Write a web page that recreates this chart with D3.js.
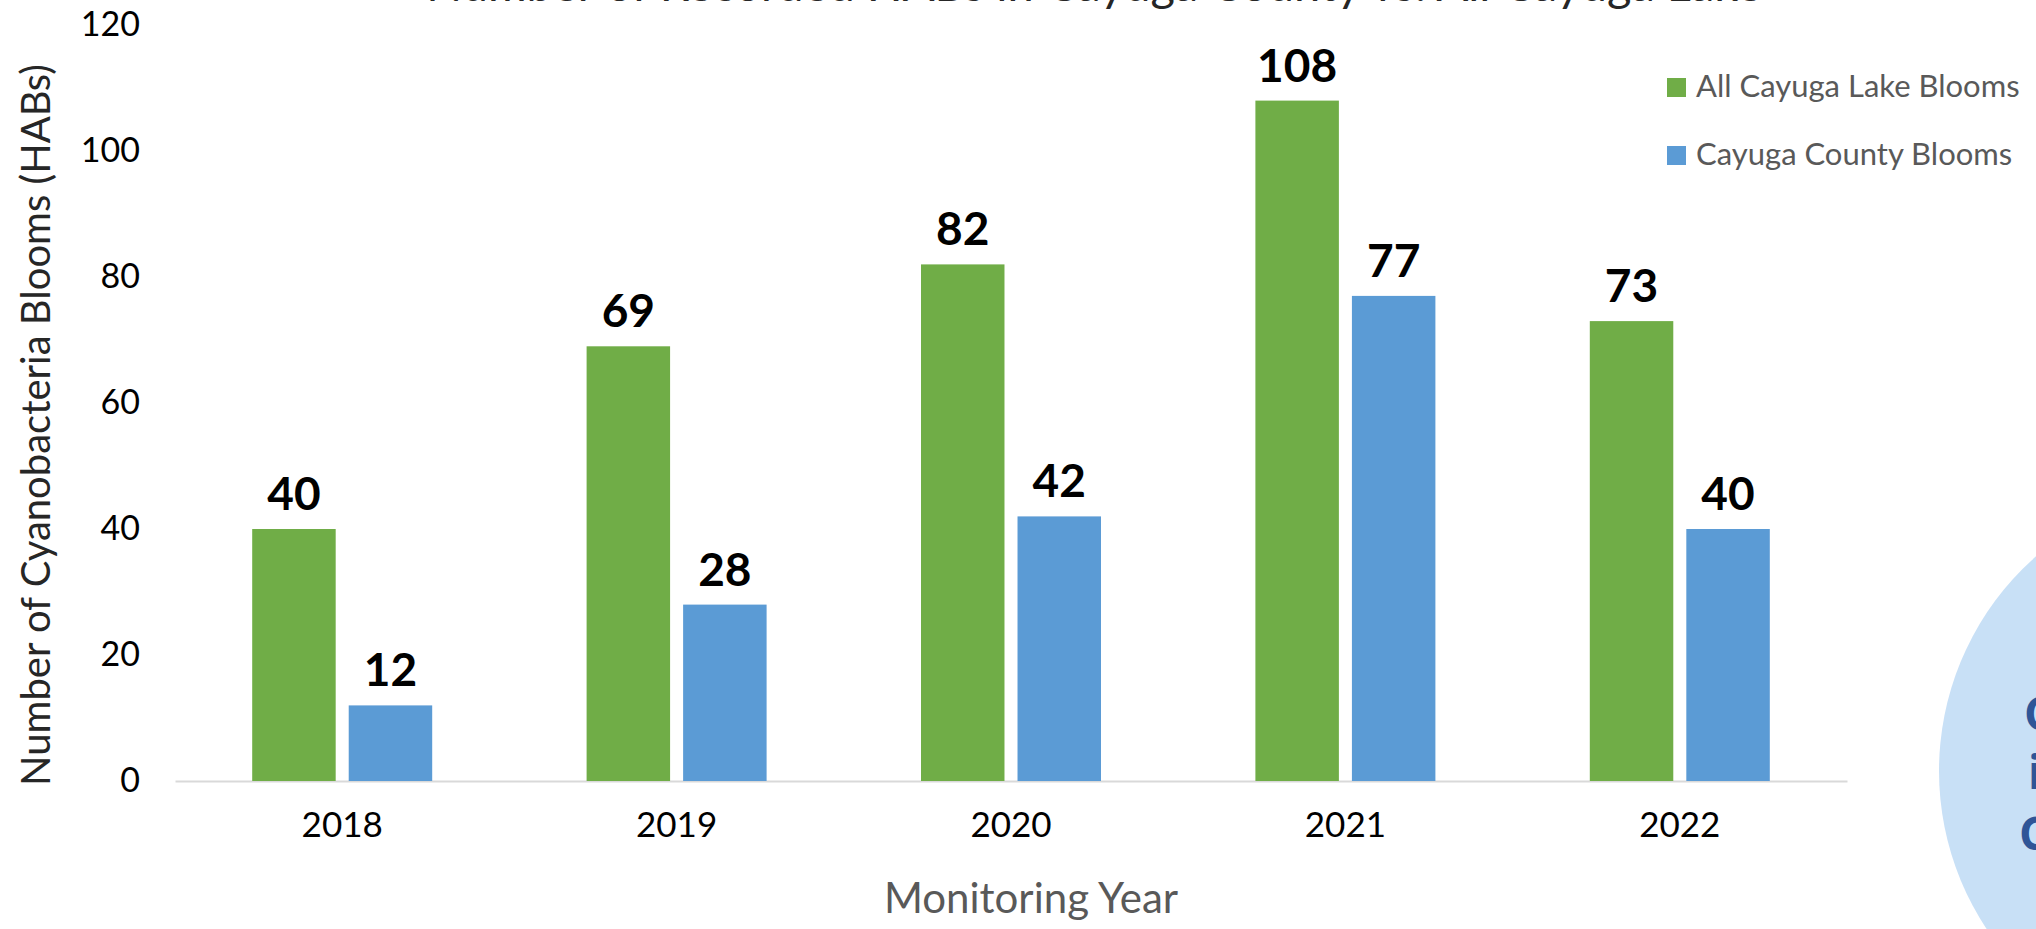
<!DOCTYPE html>
<html>
<head>
<meta charset="utf-8">
<script src="https://d3js.org/d3.v7.min.js"></script>
<style>
  html, body { margin: 0; padding: 0; background: #fff; overflow: hidden; }
  text { font-family: Lato, "Open Sans", sans-serif; }
</style>
</head>
<body>
<script>
// chart data
var years = ["2018", "2019", "2020", "2021", "2022"];
var seriesNames = ["All Cayuga Lake Blooms", "Cayuga County Blooms"];
var lakeBlooms = [40, 69, 82, 108, 73];
var countyBlooms = [12, 28, 42, 77, 40];
var yTicks = [0, 20, 40, 60, 80, 100, 120];
var colors = ["#70AD47", "#5B9BD5"];

var width = 2036, height = 929;

var svg = d3.select("body").append("svg")
    .attr("width", width)
    .attr("height", height);

// callout circle on the right, mostly off the page
var callout = svg.append("g");
callout.append("circle")
    .attr("cx", 2225).attr("cy", 771).attr("r", 286)
    .attr("fill", "#C8E0F6");
var calloutLines = [["Cyanobacteria", 2024, 730], ["in Cayuga", 2028, 789], ["County", 2019, 850]];
callout.selectAll("text.callout").data(calloutLines).enter().append("text")
    .attr("class", "callout")
    .attr("x", function(d) { return d[1]; })
    .attr("y", function(d) { return d[2]; })
    .style("font-family", "'Open Sans', sans-serif")
    .style("font-size", "46px")
    .style("font-weight", "bold")
    .style("fill", "#2F5597")
    .text(function(d) { return d[0]; });

// scales
var x0 = d3.scaleBand().domain(years).range([175, 1847]).padding(0);
var groupW = 180;
var x1 = d3.scaleBand().domain(seriesNames)
    .range([(x0.bandwidth() - groupW) / 2, (x0.bandwidth() + groupW) / 2])
    .paddingInner(0.135);
var y = d3.scaleLinear().domain([0, 120]).range([781, 25]);

// title (cut off at the top in the original)
svg.append("text")
    .attr("x", 1094).attr("y", 1)
    .attr("text-anchor", "middle")
    .style("font-size", "47px")
    .style("fill", "#262626")
    .text("Number of Recorded HABs in Cayuga County vs. All Cayuga Lake");

// y axis
var yAxis = svg.append("g")
    .attr("transform", "translate(175,0)")
    .call(d3.axisLeft(y).tickValues(yTicks).tickSize(0).tickPadding(35));
yAxis.select(".domain").remove();
yAxis.selectAll("text")
    .style("font-family", "Lato, sans-serif")
    .style("font-size", "34px")
    .style("fill", "#000");

// x axis
var xAxis = svg.append("g")
    .attr("transform", "translate(0,781)")
    .call(d3.axisBottom(x0).tickSize(0).tickSizeOuter(0).tickPadding(31));
xAxis.select(".domain").attr("stroke", "#D9D9D9").attr("stroke-width", 2);
xAxis.selectAll("text")
    .style("font-family", "Lato, sans-serif")
    .style("font-size", "35px")
    .style("fill", "#000");

// bars
var rows = years.map(function(yr, i) {
  return {year: yr, vals: [
    {name: seriesNames[0], v: lakeBlooms[i]},
    {name: seriesNames[1], v: countyBlooms[i]}
  ]};
});

var groups = svg.selectAll("g.year").data(rows).enter().append("g")
    .attr("class", "year")
    .attr("transform", function(d) { return "translate(" + x0(d.year) + ",0)"; });

groups.selectAll("rect").data(function(d) { return d.vals; }).enter().append("rect")
    .attr("x", function(d) { return x1(d.name); })
    .attr("width", x1.bandwidth())
    .attr("y", function(d) { return y(d.v); })
    .attr("height", function(d) { return y(0) - y(d.v); })
    .attr("fill", function(d, i) { return colors[i]; });

groups.selectAll("text.lbl").data(function(d) { return d.vals; }).enter().append("text")
    .attr("class", "lbl")
    .attr("x", function(d) { return x1(d.name) + x1.bandwidth() / 2; })
    .attr("y", function(d) { return y(d.v) - 19; })
    .attr("text-anchor", "middle")
    .style("font-size", "46px")
    .style("font-weight", "bold")
    .style("fill", "#000")
    .text(function(d) { return d.v; });

// axis titles
svg.append("text")
    .attr("transform", "translate(50,425)rotate(-90)")
    .attr("text-anchor", "middle")
    .style("font-size", "40px")
    .style("fill", "#262626")
    .text("Number of Cyanobacteria Blooms (HABs)");

svg.append("text")
    .attr("x", 1031).attr("y", 913)
    .attr("text-anchor", "middle")
    .style("font-size", "42px")
    .style("fill", "#595959")
    .text("Monitoring Year");

// legend
var legend = svg.selectAll("g.legend").data(seriesNames).enter().append("g")
    .attr("class", "legend")
    .attr("transform", function(d, i) { return "translate(1667," + (78 + i * 68) + ")"; });
legend.append("rect")
    .attr("width", 19).attr("height", 19)
    .attr("fill", function(d, i) { return colors[i]; });
legend.append("text")
    .attr("x", 29).attr("y", 19)
    .style("font-size", "31px")
    .style("fill", "#595959")
    .text(function(d) { return d; });
</script>
</body>
</html>
